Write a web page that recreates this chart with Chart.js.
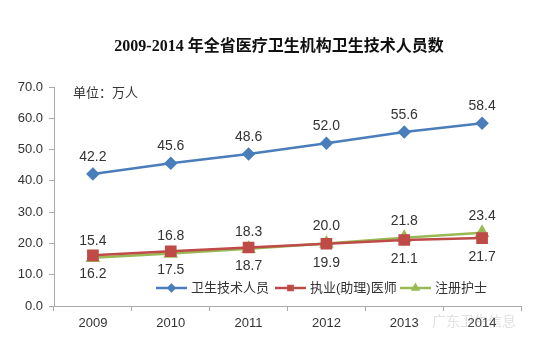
<!DOCTYPE html>
<html>
<head>
<meta charset="utf-8">
<script src="https://cdn.jsdelivr.net/npm/chart.js@4"></script>
<style>
  html, body { margin: 0; padding: 0; background: #fff; }
  #wrap { width: 554px; height: 348px; }
</style>
</head>
<body>
<div id="wrap"><canvas id="chart" width="554" height="348"></canvas></div>
<script>
// ── Data ──────────────────────────────────────────────────
const years   = ['2009', '2010', '2011', '2012', '2013', '2014'];
const techStaff = [42.2, 45.6, 48.6, 52.0, 55.6, 58.4];   // 卫生技术人员
const doctors   = [16.2, 17.5, 18.7, 19.9, 21.1, 21.7];   // 执业(助理)医师
const nurses    = [15.4, 16.8, 18.3, 20.0, 21.8, 23.4];   // 注册护士
const yTicks    = [0, 10, 20, 30, 40, 50, 60, 70];

const TITLE = '2009-2014 年全省医疗卫生机构卫生技术人员数';
const UNIT  = '单位：万人';
const FONT  = '"Liberation Sans", "Noto Sans CJK SC", sans-serif';

const COLORS = { tech: '#4a7ebb', doc: '#be4b48', nurse: '#98b954' };

// ── Overlay: title, unit, value labels, legend ────────────
const overlay = {
  id: 'overlay',
  afterDatasetsDraw(chart) {
    const ctx = chart.ctx;
    ctx.save();

    // title
    ctx.fillStyle = '#111';
    ctx.font = 'bold 16px "Liberation Serif", "Noto Sans CJK SC", serif';
    ctx.textAlign = 'center';
    ctx.textBaseline = 'middle';
    ctx.fillText(TITLE, 279, 47);

    // unit
    ctx.font = '13px ' + FONT;
    ctx.fillStyle = '#333';
    ctx.textAlign = 'left';
    ctx.fillText(UNIT, 73, 93);

    // value labels
    ctx.textAlign = 'center';
    ctx.font = '14px ' + FONT;
    const offsets = [-17, 19, -17]; // tech above, doctors below, nurses above
    chart.data.datasets.forEach((ds, i) => {
      chart.getDatasetMeta(i).data.forEach((pt, j) => {
        ctx.fillText(ds.data[j].toFixed(1), pt.x, pt.y + offsets[i]);
      });
    });

    // legend
    const items = [
      { label: '卫生技术人员', color: COLORS.tech, style: 'rectRot', x: 156 },
      { label: '执业(助理)医师', color: COLORS.doc, style: 'rect', x: 275 },
      { label: '注册护士', color: COLORS.nurse, style: 'triangle', x: 400 },
    ];
    const ly = 288;
    ctx.font = '13px ' + FONT;
    items.forEach(it => {
      ctx.strokeStyle = it.color;
      ctx.lineWidth = 2.5;
      ctx.beginPath();
      ctx.moveTo(it.x, ly);
      ctx.lineTo(it.x + 31, ly);
      ctx.stroke();
      ctx.fillStyle = it.color;
      Chart.helpers.drawPoint(ctx, { pointStyle: it.style, radius: 3, borderWidth: 1 }, it.x + 15.5, ly);
      ctx.fillStyle = '#333';
      ctx.textAlign = 'left';
      ctx.fillText(it.label, it.x + 35, ly);
    });

    // faint watermark
    ctx.globalAlpha = 0.3;
    ctx.fillStyle = '#999';
    ctx.font = '14px ' + FONT;
    ctx.fillText('广东卫生信息', 432, 322);
    ctx.restore();
  }
};

function series(label, data, color, style, radius) {
  return {
    label, data,
    borderColor: color,
    backgroundColor: color,
    pointBackgroundColor: color,
    pointBorderColor: color,
    pointStyle: style,
    pointRadius: radius,
    borderWidth: 2.5,
    tension: 0,
  };
}

new Chart(document.getElementById('chart'), {
  type: 'line',
  data: {
    labels: years,
    datasets: [
      series('卫生技术人员', techStaff, COLORS.tech, 'rectRot', 5),
      series('执业(助理)医师', doctors, COLORS.doc, 'rect', 6.5),
      series('注册护士', nurses, COLORS.nurse, 'triangle', 6),
    ],
  },
  options: {
    responsive: false,
    animation: false,
    layout: { padding: { top: 87, right: 33, bottom: 0, left: 0 } },
    plugins: { legend: { display: false }, title: { display: false }, tooltip: { enabled: false } },
    scales: {
      x: {
        offset: true,
        grid: { offset: true, drawOnChartArea: false, tickLength: 5, color: '#aaa' },
        border: { color: '#aaa' },
        ticks: { color: '#333', font: { size: 13, family: FONT }, padding: 5 },
        afterFit(s) { s.height = 42; },
      },
      y: {
        min: 0, max: 70,
        afterBuildTicks(s) { s.ticks = yTicks.map(v => ({ value: v })); },
        grid: { drawOnChartArea: false, tickLength: 5, color: '#aaa' },
        border: { color: '#aaa' },
        ticks: { color: '#333', font: { size: 13, family: FONT }, padding: 6, callback: v => v.toFixed(1) },
        afterFit(s) { s.width = 54; },
      },
    },
  },
  plugins: [overlay],
});
</script>
</body>
</html>
